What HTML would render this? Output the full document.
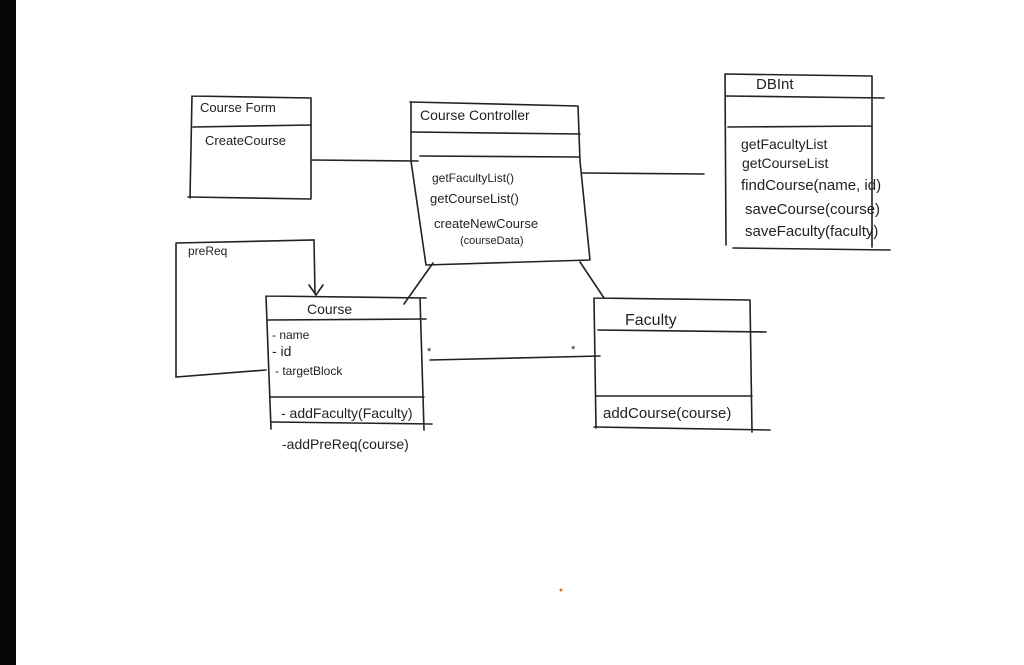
<!DOCTYPE html>
<html><head><meta charset="utf-8"><style>
html,body{margin:0;padding:0;background:#fff;}
svg{display:block;}
text{font-family:"Liberation Sans",sans-serif;fill:#222;}
</style></head><body>
<svg width="1024" height="665" viewBox="0 0 1024 665" xmlns="http://www.w3.org/2000/svg">
<rect x="0" y="0" width="1024" height="665" fill="#fff"/>
<rect x="0" y="0" width="16" height="665" fill="#050505"/>
<g stroke="#222" stroke-width="1.6" fill="none" stroke-linecap="round">
<!-- Course Form -->
<path d="M192 96 L311 98 M192 96 L190 198 M311 98 L311 198 M188 197 L311 199 M193 127 L311 125"/>
<!-- connector CF-CC -->
<path d="M312 160 L418 161"/>
<!-- Course Controller -->
<path d="M410 102 L578 106 M411 102 L411 161 M411 161 L426 265 M578 106 L580 161 M580 161 L590 260 M426 265 L590 260 M412 132 L580 134 M420 156 L580 157"/>
<!-- CC-DB -->
<path d="M582 173 L704 174"/>
<!-- DBInt -->
<path d="M725 74 L872 76 M725 74 L726 245 M872 76 L872 247 M726 96 L884 98 M728 127 L872 126 M733 248 L890 250"/>
<!-- CC-Course, CC-Faculty -->
<path d="M433 263 L404 304 M580 262 L604 298"/>
<!-- Course -->
<path d="M266 296 L426 298 M266 296 L271 429 M420 298 L424 430 M268 320 L426 319 M270 397 L424 397 M272 422 L432 424"/>
<!-- preReg self -->
<path d="M176 243 L314 240 L315 294 M176 243 L176 377 L266 370 M309 285 L316 295 L323 285"/>
<!-- Course-Faculty -->
<path d="M430 360 L600 356"/>
<!-- Faculty -->
<path d="M594 298 L750 300 M594 298 L596 428 M750 300 L752 432 M598 330 L766 332 M596 396 L752 396 M594 427 L770 430"/>
</g>
<g font-size="13">
<text x="200" y="112">Course Form</text>
<text x="205" y="145">CreateCourse</text>
<text x="420" y="120" font-size="14">Course Controller</text>
<text x="432" y="182" font-size="12">getFacultyList()</text>
<text x="430" y="203" font-size="13">getCourseList()</text>
<text x="434" y="228" font-size="13">createNewCourse</text>
<text x="460" y="244" font-size="11">(courseData)</text>
<text x="756" y="89" font-size="15">DBInt</text>
<text x="741" y="149" font-size="14">getFacultyList</text>
<text x="742" y="168" font-size="14">getCourseList</text>
<text x="741" y="190" font-size="15">findCourse(name, id)</text>
<text x="745" y="214" font-size="15">saveCourse(course)</text>
<text x="745" y="236" font-size="15">saveFaculty(faculty)</text>
<text x="188" y="255" font-size="12">preReq</text>
<text x="307" y="314" font-size="14">Course</text>
<text x="272" y="339" font-size="12">- name</text>
<text x="272" y="356" font-size="14">- id</text>
<text x="275" y="375" font-size="12">- targetBlock</text>
<text x="281" y="418" font-size="14">- addFaculty(Faculty)</text>
<text x="282" y="449" font-size="14">-addPreReq(course)</text>
<text x="427" y="355" font-size="11">*</text>
<text x="571" y="353" font-size="11">*</text>
<text x="625" y="325" font-size="16">Faculty</text>
<text x="603" y="418" font-size="15">addCourse(course)</text>
</g>
<circle cx="561" cy="590" r="1.5" fill="#e07020"/>
</svg>
</body></html>
